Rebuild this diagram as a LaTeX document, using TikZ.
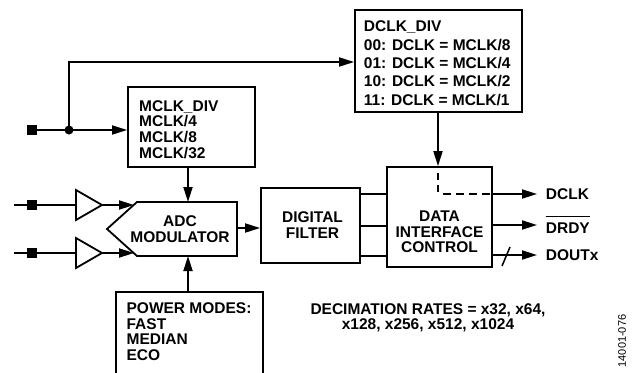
\documentclass[tikz,border=0pt]{standalone}
\usepackage{fontspec}
\setmainfont{Liberation Sans}
\usetikzlibrary{arrows.meta}
\newcommand\myfnt[1]{\bfseries\fontsize{15.5}{#1}\selectfont}
\newcommand\myovl[1]{\leavevmode\setbox0\hbox{#1}\rlap{\rule[\dimexpr\ht0+5.5pt\relax]{\wd0}{1.1pt}}\box0}
\begin{document}
\begin{tikzpicture}[x=1pt,y=-1pt,line width=1.8pt,line join=miter,
  tip/.style={-{Triangle[length=15pt,width=9pt]}},
  boxn/.style={draw,line width=1.8pt,inner sep=0pt},
  pad/.style={fill,inner sep=0pt,minimum size=10pt},
  txt/.style={inner sep=0pt,font=\myfnt{15.9}},
]
\useasboundingbox (0,0) rectangle (639,372);

% boxes
\node[boxn,minimum width=127pt,minimum height=80pt] (mclkdiv) at (191.5,127) {};
\node[boxn,minimum width=167pt,minimum height=102pt] (dclkdiv) at (438.5,61) {};
\node[boxn,minimum width=99pt,minimum height=75pt] (filter) at (310.5,225.5) {};
\node[boxn,minimum width=105pt,minimum height=100pt] (dic) at (439.5,217) {};

% ADC modulator shape
\draw (137,202) -- (237,202) -- (237,256) -- (137,256) -- (107,229) -- cycle;
\coordinate (adctop) at (188,202);
\coordinate (adcbot) at (188,256);
\coordinate (adcout) at (237,228);

% power modes open box
\coordinate (pwtop) at (188,292);
\draw (116,374) -- (116,292) -- (263,292) -- (263,374);

% clock input
\node[pad] (mclkin) at (31.5,130) {};
\coordinate (split) at (69,130);
\coordinate (topc) at (69,62);
\draw (mclkin) -- (split);
\draw[tip] (split) -- (mclkdiv.west |- split);
\draw[tip] (split) -- (topc) -- (dclkdiv.west |- topc);
\fill (split) circle (4.5pt);

% analog inputs
\coordinate (in1) at (14,205);
\node[pad] (sq1) at (31.5,205) {};
\coordinate (buf1) at (76,205);
\coordinate (buf1tip) at (102,205);
\coordinate (adcin1) at (134,205);
\draw (in1) -- (buf1);
\draw (76,190) -- (buf1tip) -- (76,220) -- cycle;
\draw[tip] (buf1tip) -- (adcin1);

\coordinate (in2) at (14,253);
\node[pad] (sq2) at (31.5,253) {};
\coordinate (buf2) at (76,253);
\coordinate (buf2tip) at (102,253);
\coordinate (adcin2) at (134,253);
\draw (in2) -- (buf2);
\draw (76,238) -- (buf2tip) -- (76,268) -- cycle;
\draw[tip] (buf2tip) -- (adcin2);

% internal connections
\draw[tip] (mclkdiv.south -| adctop) -- (adctop);
\draw[tip] (pwtop) -- (adcbot);
\draw[tip] (adcout) -- (filter.west |- adcout);
\foreach \yy in {194,226,256} \draw (filter.east |- 0,\yy) -- (dic.west |- 0,\yy);
\draw[tip] (dclkdiv.south -| 438,0) -- (dic.north -| 438,0);

% outputs
\coordinate (dk) at (438,194);
\coordinate (dclkend) at (537,194);
\coordinate (drdyend) at (537,225);
\coordinate (doutend) at (537,255);
\draw[dash pattern=on 7pt off 5pt] (438,173) -- (dk);
\draw[dash pattern=on 8pt off 5pt] (443,194) -- (dic.east |- dk);
\draw[tip] (dic.east |- dk) -- (dclkend);
\draw[tip] (dic.east |- drdyend) -- (drdyend);
\draw[tip] (dic.east |- doutend) -- (doutend);
\draw[line width=1.5pt] (502,266) -- (510,247);

% texts
\node[txt,anchor=north west,align=left] (mclktxt) at (138.3,99.3) {MCLK\_DIV\\MCLK/4\\MCLK/8\\MCLK/32};
\node[txt,anchor=north west,align=left,font=\myfnt{18.4}] (dclktxt) at (363,20) {DCLK\_DIV\\00: DCLK = MCLK/8\\01: DCLK = MCLK/4\\10: DCLK = MCLK/2\\11: DCLK = MCLK/1};
\node[txt,anchor=north,align=center,font=\myfnt{16}] (adctxt) at (180,215) {ADC\\MODULATOR};
\node[txt,anchor=north,align=center,font=\myfnt{16}] (filtxt) at (312.5,210.7) {DIGITAL\\FILTER};
\node[txt,anchor=north,align=center,font=\myfnt{15.5}] (dictxt) at (439.5,210.3) {DATA\\INTERFACE\\CONTROL};
\node[txt,anchor=north west,align=left,font=\myfnt{15.6}] (pwtxt) at (125.7,301.7) {POWER MODES:\\FAST\\MEDIAN\\ECO};
\node[txt,anchor=north,align=center,font=\myfnt{14.5}] (dectxt) at (428,303) {DECIMATION RATES = x32, x64,\\x128, x256, x512, x1024};
\node[txt,anchor=base west] (dclklbl) at (545,199.3) {DCLK};
\node[txt,anchor=base west] (drdylbl) at (545,233.3) {\myovl{DRDY}};
\node[txt,anchor=base west] (doutlbl) at (545,260.7) {DOUTx};
\node[inner sep=0pt,rotate=90,font=\fontsize{11}{11}\selectfont] (figno) at (622,341) {14001-076};
\end{tikzpicture}
\end{document}
